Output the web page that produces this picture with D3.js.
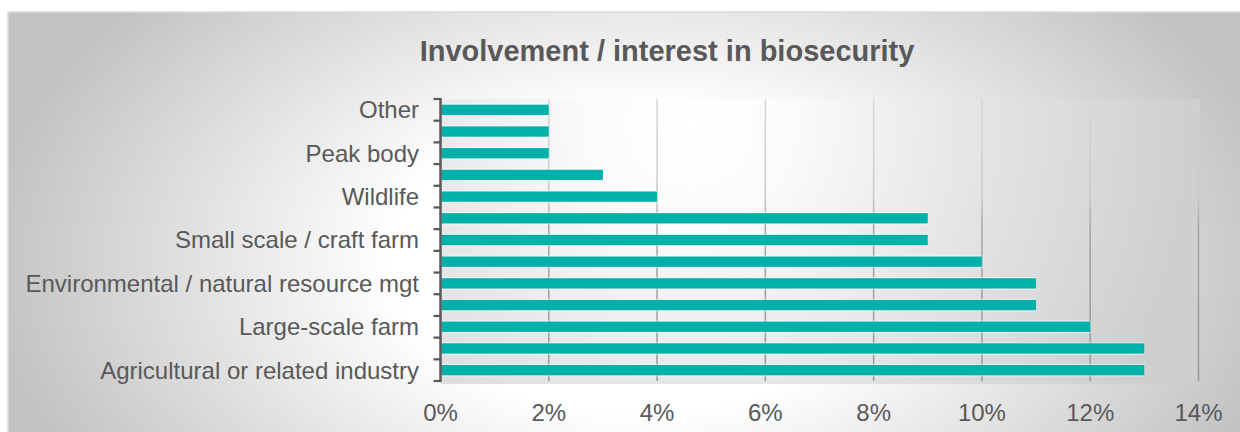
<!DOCTYPE html>
<html>
<head>
<meta charset="utf-8">
<script src="https://cdn.jsdelivr.net/npm/d3@7"></script>
<style>
  html, body { margin: 0; padding: 0; background: #ffffff; }
  svg { display: block; }
</style>
</head>
<body>
<svg id="chart" width="1240" height="432"></svg>
<script>
// ---- data (top to bottom as drawn) ----
const title = "Involvement / interest in biosecurity";
// Only every other category label is shown in the original chart; hidden ones are blank.
const categories = [
  "Other", "", "Peak body", "", "Wildlife", "", "Small scale / craft farm", "",
  "Environmental / natural resource mgt", "", "Large-scale farm", "", "Agricultural or related industry"
];
const values = [2, 2, 2, 3, 4, 9, 9, 10, 11, 11, 12, 13, 13];
const xTicks = [0, 2, 4, 6, 8, 10, 12, 14];
const xTickLabels = ["0%", "2%", "4%", "6%", "8%", "10%", "12%", "14%"];

// ---- layout ----
const W = 1240, H = 432;
const plot = { left: 440.5, right: 1198.5, top: 99, bottom: 381 };
const FONT = "'Liberation Sans', Arial, sans-serif";
const textColor = "#595959";
const barColor = "#00b1a9";

const svg = d3.select("#chart");
const defs = svg.append("defs");

// background radial gradient
const bg = defs.append("radialGradient")
  .attr("id", "bgGrad").attr("gradientUnits", "userSpaceOnUse")
  .attr("cx", 0).attr("cy", 0).attr("r", 1)
  .attr("gradientTransform", "translate(640,260) scale(650,400)");
bg.append("stop").attr("offset", 0).attr("stop-color", "#ffffff");
bg.append("stop").attr("offset", 0.38).attr("stop-color", "#ffffff");
bg.append("stop").attr("offset", 1).attr("stop-color", "#c3c3c3");

// plot area radial gradient
const pg = defs.append("radialGradient")
  .attr("id", "plotGrad").attr("gradientUnits", "userSpaceOnUse")
  .attr("cx", 0).attr("cy", 0).attr("r", 1)
  .attr("gradientTransform", "translate(690,125) scale(500,500)");
pg.append("stop").attr("offset", 0).attr("stop-color", "#ffffff");
pg.append("stop").attr("offset", 0.2).attr("stop-color", "#fbfbfb");
pg.append("stop").attr("offset", 0.55).attr("stop-color", "#e6e6e6");
pg.append("stop").attr("offset", 1).attr("stop-color", "#cfcfcf");

// gridline gradient
const gg = defs.append("linearGradient")
  .attr("id", "gridGrad").attr("gradientUnits", "userSpaceOnUse")
  .attr("x1", 0).attr("y1", plot.top).attr("x2", 0).attr("y2", plot.bottom);
gg.append("stop").attr("offset", 0).attr("stop-color", "#d6d6d6");
gg.append("stop").attr("offset", 0.35).attr("stop-color", "#c8c8c8");
gg.append("stop").attr("offset", 0.45).attr("stop-color", "#a4a4a4");
gg.append("stop").attr("offset", 1).attr("stop-color", "#979797");

// chart area
svg.append("rect").attr("x", 8).attr("y", 12).attr("width", W).attr("height", H)
  .attr("fill", "url(#bgGrad)").attr("stroke", "#dadada").attr("stroke-width", 1.5);

// scales
const x = d3.scaleLinear().domain([0, 14]).range([plot.left, plot.right]);
const y = d3.scaleBand().domain(d3.range(categories.length))
  .range([plot.top, plot.bottom]).paddingInner(0.524).paddingOuter(0.262);
const step = y.step();

// plot area fill
svg.append("rect").attr("x", plot.left).attr("y", plot.top)
  .attr("width", plot.right - plot.left).attr("height", plot.bottom - plot.top + 3)
  .attr("fill", "url(#plotGrad)");

// gridlines
svg.append("g").selectAll("line").data(xTicks.filter(d => d > 0)).join("line")
  .attr("x1", d => x(d)).attr("x2", d => x(d))
  .attr("y1", plot.top).attr("y2", plot.bottom)
  .attr("stroke", "url(#gridGrad)").attr("stroke-width", 1.5);

// bars: light halo then bar
const bars = svg.append("g");
bars.selectAll("rect.halo").data(values).join("rect").attr("class", "halo")
  .attr("x", plot.left + 1).attr("y", (d, i) => y(i) - 1.2)
  .attr("width", d => x(d) - plot.left - 0.5).attr("height", y.bandwidth() + 2.4)
  .attr("fill", "#ffffff").attr("opacity", 0.45);
bars.selectAll("rect.bar").data(values).join("rect").attr("class", "bar")
  .attr("x", plot.left + 1).attr("y", (d, i) => y(i))
  .attr("width", d => x(d) - plot.left - 1).attr("height", y.bandwidth())
  .attr("fill", barColor);

// y axis line and ticks (at band boundaries)
const axisG = svg.append("g");
axisG.append("line").attr("x1", plot.left).attr("x2", plot.left)
  .attr("y1", plot.top - 1).attr("y2", plot.bottom + 1)
  .attr("stroke", textColor).attr("stroke-width", 2.5);
axisG.selectAll("line.tick").data(d3.range(categories.length + 1)).join("line").attr("class", "tick")
  .attr("x1", plot.left - 7).attr("x2", plot.left)
  .attr("y1", i => plot.top + i * step).attr("y2", i => plot.top + i * step)
  .attr("stroke", textColor).attr("stroke-width", 2.25);

// y labels
svg.append("g").selectAll("text").data(categories.map((c, i) => ({ c, i })).filter(d => d.c))
  .join("text")
  .attr("x", 419).attr("y", d => y(d.i) + y.bandwidth() / 2).attr("dy", "0.35em")
  .attr("text-anchor", "end").attr("font-family", FONT).attr("font-size", 24)
  .attr("fill", textColor).text(d => d.c);

// x labels
svg.append("g").selectAll("text").data(xTicks).join("text")
  .attr("x", d => x(d)).attr("y", 421)
  .attr("text-anchor", "middle").attr("font-family", FONT).attr("font-size", 24)
  .attr("fill", textColor).text((d, i) => xTickLabels[i]);

// title
svg.append("text").attr("x", 667).attr("y", 61).attr("text-anchor", "middle")
  .attr("font-family", FONT).attr("font-size", 29).attr("font-weight", "bold")
  .attr("fill", textColor).text(title);
</script>
</body>
</html>
